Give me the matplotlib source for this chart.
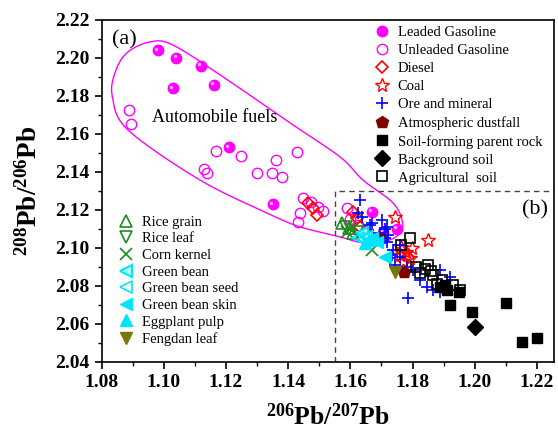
import matplotlib
matplotlib.use('Agg')
import matplotlib.pyplot as plt
import matplotlib.transforms as mtransforms
from matplotlib.ticker import MultipleLocator
import numpy as np

plt.rcParams['font.family'] = ['Liberation Serif', 'DejaVu Serif']
plt.rcParams['mathtext.default'] = 'regular'

# ---- data ----
leaded_x = [1.098, 1.104, 1.112, 1.103, 1.116, 1.121, 1.135, 1.167, 1.175, 1.1705]
leaded_y = [2.204, 2.200, 2.196, 2.184, 2.186, 2.153, 2.123, 2.119, 2.110, 2.1086]

unleaded_x = [1.0889, 1.0896, 1.1168, 1.1248, 1.1360, 1.1429, 1.1299, 1.1349, 1.1379,
              1.1129, 1.1140, 1.1448, 1.1438, 1.1430, 1.1475, 1.1497, 1.1513, 1.1588,
              1.1600, 1.1625]
unleaded_y = [2.1726, 2.1653, 2.1512, 2.1486, 2.1463, 2.1504, 2.1396, 2.1396, 2.1375,
              2.1416, 2.1396, 2.1262, 2.1183, 2.1138, 2.1244, 2.1217, 2.1195, 2.1209,
              2.1150, 2.1120]

diesel_x = [1.1465, 1.1481, 1.1492, 1.1609, 1.1620, 1.1631, 1.1765, 1.1785]
diesel_y = [2.1235, 2.1209, 2.1174, 2.1191, 2.1156, 2.1112, 2.0985, 2.0955]

coal_x = [1.1743, 1.1850, 1.1762, 1.1778, 1.1792, 1.1759, 1.1797, 1.1770]
coal_y = [2.1165, 2.1042, 2.1005, 2.0980, 2.0946, 2.0963, 2.1000, 2.0930]

ore_x = [1.1631, 1.1636, 1.1668, 1.1701, 1.1717, 1.1722, 1.1658, 1.1727, 1.1743, 1.1759,
         1.1781, 1.1802, 1.1888, 1.1920, 1.1845, 1.1867, 1.1888, 1.1786, 1.1824, 1.1738,
         1.1759, 1.1695, 1.1711, 1.1717, 1.1733, 1.1625, 1.1663, 1.1711]
ore_y = [2.1253, 2.1165, 2.1130, 2.1147, 2.1112, 2.1068, 2.1095, 2.0946, 2.0911, 2.0954,
         2.0902, 2.0884, 2.0884, 2.0849, 2.0796, 2.0779, 2.0770, 2.0735, 2.0832, 2.0990,
         2.1016, 2.1077, 2.1050, 2.1030, 2.0963, 2.1183, 2.1120, 2.1100]

dust_x = [1.1690, 1.1772, 1.1655]
dust_y = [2.1051, 2.0875, 2.1075]

parent_x = [1.1920, 1.1990, 1.2100, 1.2151, 1.2199, 1.1950, 1.1910, 1.1888, 1.1904]
parent_y = [2.0700, 2.0665, 2.0709, 2.0507, 2.0525, 2.0767, 2.0780, 2.0796, 2.0805]

background_x = [1.2001]
background_y = [2.0586]

agri_x = [1.1792, 1.1764, 1.1850, 1.1840, 1.1867, 1.1894, 1.1931, 1.1824, 1.1880, 1.1952,
          1.1810, 1.1860]
agri_y = [2.1051, 2.1016, 2.0911, 2.0890, 2.0858, 2.0832, 2.0805, 2.0867, 2.0810, 2.0779,
          2.0900, 2.0880]

rice_grain_x = [1.1572, 1.1595, 1.1610]
rice_grain_y = [2.1130, 2.1104, 2.1077]
rice_leaf_x = [1.1585, 1.1620]
rice_leaf_y = [2.1110, 2.1085]
corn_x = [1.1668, 1.1588, 1.1600]
corn_y = [2.0990, 2.1086, 2.1100]
bean_x = [1.1636, 1.1650]
bean_y = [2.1077, 2.1060]
bean_seed_x = [1.1625, 1.1640]
bean_seed_y = [2.1051, 2.1045]
bean_skin_x = [1.1668, 1.1684, 1.1711]
bean_skin_y = [2.1051, 2.1033, 2.0954]
eggplant_x = [1.1647, 1.1660]
eggplant_y = [2.1025, 2.1040]
fengdan_x = [1.1744]
fengdan_y = [2.0875]

# outline of the automobile fuels field
env_x = [1.0835, 1.0843, 1.0881, 1.0955, 1.1029, 1.1191, 1.1406, 1.1567, 1.1640, 1.1737,
         1.1768, 1.1752, 1.1697, 1.1631, 1.1567, 1.1438, 1.1332, 1.1116, 1.0885]
env_y = [2.1795, 2.1921, 2.2026, 2.2084, 2.2068, 2.1900, 2.1658, 2.1479, 2.1358, 2.1237,
         2.1132, 2.1065, 2.1030, 2.1030, 2.1058, 2.1111, 2.1184, 2.1358, 2.1621]


def closed_curve(xs, ys, n=30):
    # periodic Catmull-Rom through the outline points
    p = np.column_stack([xs, ys])
    m = len(p)
    out = []
    for i in range(m):
        p0, p1, p2, p3 = p[(i - 1) % m], p[i], p[(i + 1) % m], p[(i + 2) % m]
        t = np.linspace(0, 1, n, endpoint=False)[:, None]
        out.append(0.5 * ((2 * p1) + (-p0 + p2) * t + (2 * p0 - 5 * p1 + 4 * p2 - p3) * t ** 2
                          + (-p0 + 3 * p1 - 3 * p2 + p3) * t ** 3))
    out = np.vstack(out)
    return np.vstack([out, out[:1]])


fig = plt.figure(figsize=(5.58, 4.33), dpi=100)
ax = fig.add_axes([0.182, 0.164, 0.811, 0.790])

curve = closed_curve(env_x, env_y)
ax.plot(curve[:, 0], curve[:, 1], color='#ff00ff', lw=1.0, zorder=1)

ax.plot([1.155, 1.155, 1.2255], [2.04, 2.13, 2.13], ls=(0, (4, 3)), color='#444444', lw=1.0, zorder=1)

ms = 7
h1 = []
h1.append(ax.plot(leaded_x, leaded_y, 'o', ms=ms + 0.5, mfc='#ff00ff', mec='#ff00ff', label='Leaded Gasoline')[0])
hl = mtransforms.offset_copy(ax.transData, fig=fig, x=-1.2, y=1.2, units='points')
ax.plot(leaded_x, leaded_y, 'o', ms=2.5, mfc='#ffb0ff', mec='none', transform=hl)
h1.append(ax.plot(unleaded_x, unleaded_y, 'o', ms=ms + 0.5, mfc='none', mec='#ff00ff', mew=1.0, label='Unleaded Gasoline')[0])
h1.append(ax.plot(diesel_x, diesel_y, 'D', ms=ms - 0.5, mfc='none', mec='#ff0000', mew=1.2, label='Diesel')[0])
h1.append(ax.plot(coal_x, coal_y, '*', ms=ms + 3, mfc='none', mec='#ff0000', mew=1.0, label='Coal')[0])
h1.append(ax.plot(ore_x, ore_y, '+', ms=ms + 2, mec='#0000ff', mew=1.2, label='Ore and mineral')[0])
h1.append(ax.plot(dust_x, dust_y, 'p', ms=ms + 2, mfc='#800000', mec='#800000', label='Atmospheric dustfall')[0])
h1.append(ax.plot(parent_x, parent_y, 's', ms=ms, mfc='black', mec='black', label='Soil-forming parent rock')[0])
h1.append(ax.plot(background_x, background_y, 'D', ms=ms + 1, mfc='black', mec='black', label='Background soil')[0])
h1.append(ax.plot(agri_x, agri_y, 's', ms=ms, mfc='none', mec='black', mew=1.2, label='Agricultural  soil')[0])

green = '#1e8a1e'
h2 = []
h2.append(ax.plot(rice_grain_x, rice_grain_y, '^', ms=ms + 1, mfc='none', mec=green, mew=1.2, label='Rice grain')[0])
h2.append(ax.plot(rice_leaf_x, rice_leaf_y, 'v', ms=ms + 1, mfc='none', mec=green, mew=1.2, label='Rice leaf')[0])
h2.append(ax.plot(corn_x, corn_y, 'x', ms=ms + 1, mec=green, mew=1.2, label='Corn kernel')[0])
h2.append(ax.plot(bean_x, bean_y, '<', ms=ms + 1, mfc='#b0ffff', mec='#00e5ff', mew=1.5, label='Green bean')[0])
h2.append(ax.plot(bean_seed_x, bean_seed_y, '<', ms=ms + 1, mfc='none', mec='#00e5ff', mew=1.2, label='Green bean seed')[0])
h2.append(ax.plot(bean_skin_x, bean_skin_y, '<', ms=ms + 1, mfc='#00e5ff', mec='#00e5ff', label='Green bean skin')[0])
h2.append(ax.plot(eggplant_x, eggplant_y, '^', ms=ms + 1, mfc='#00e5ff', mec='#00e5ff', label='Eggplant pulp')[0])
h2.append(ax.plot(fengdan_x, fengdan_y, 'v', ms=ms + 2, mfc='#77770a', mec='#77770a', label='Fengdan leaf')[0])

leg1 = ax.legend(handles=h1, loc='upper left', bbox_to_anchor=(0.6, 0.982), frameon=False,
                 fontsize=10.5, handlelength=1.2, handletextpad=0.5, labelspacing=0.33,
                 borderpad=0, borderaxespad=0, numpoints=1)
ax.add_artist(leg1)
ax.legend(handles=h2, loc='upper left', bbox_to_anchor=(0.035, 0.428), frameon=False,
          fontsize=10.5, handlelength=1.2, handletextpad=0.5, labelspacing=0.235,
          borderpad=0, borderaxespad=0, numpoints=1)

ax.text(1.1165, 2.1684, 'Automobile fuels', fontsize=13, ha='center', va='center')
ax.text(1.0833, 2.2095, '(a)', fontsize=16, ha='left', va='center')
ax.text(1.2235, 2.120, '(b)', fontsize=16, ha='right', va='center')

ax.set_xlim(1.08, 1.2255)
ax.set_ylim(2.04, 2.22)
ax.xaxis.set_major_locator(MultipleLocator(0.02))
ax.xaxis.set_minor_locator(MultipleLocator(0.01))
ax.yaxis.set_major_locator(MultipleLocator(0.02))
ax.yaxis.set_minor_locator(MultipleLocator(0.01))
ax.xaxis.set_major_formatter(matplotlib.ticker.FormatStrFormatter('%.2f'))
ax.yaxis.set_major_formatter(matplotlib.ticker.FormatStrFormatter('%.2f'))
ax.tick_params(which='both', direction='out', top=False, right=False)
ax.tick_params(which='major', length=5, width=1.2, labelsize=14)
ax.tick_params(which='minor', length=3, width=1.0)
for lab in ax.get_xticklabels() + ax.get_yticklabels():
    lab.set_fontweight('bold')
for s in ax.spines.values():
    s.set_linewidth(1.2)

ax.set_xlabel('$^{206}$Pb/$^{207}$Pb', fontsize=18.5, fontweight='bold', labelpad=9)
ax.set_ylabel('$^{208}$Pb/$^{206}$Pb', fontsize=19.5, fontweight='bold', labelpad=9)

fig.savefig('out.png', dpi=100)
